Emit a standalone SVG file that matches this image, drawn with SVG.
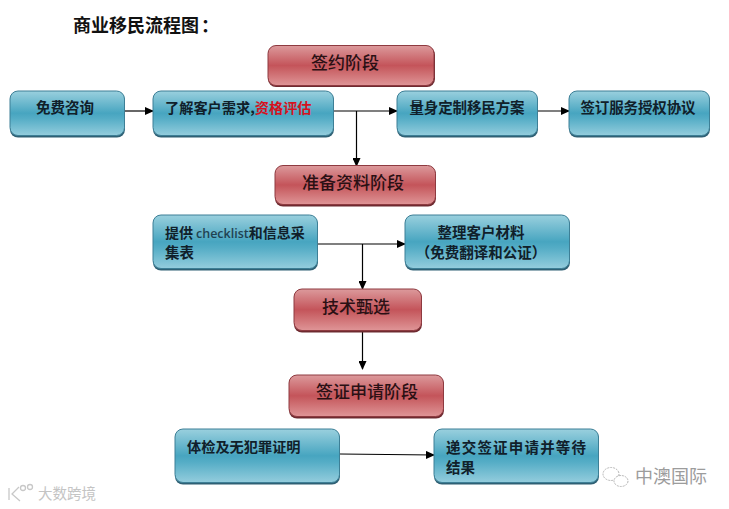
<svg xmlns="http://www.w3.org/2000/svg" width="729" height="509" viewBox="0 0 729 509">
<style>
text{font-family:"Noto Sans CJK SC","Noto Sans",sans-serif;fill:#10202a;font-weight:700}
.b{font-size:14.500px}
.r{font-size:17px;font-weight:500;fill:#2a1014}
.box{stroke:#3d7f96;stroke-width:1}
.rbox{stroke:#8e3a40;stroke-width:1}
.sb{fill:#2f6074}
.sr{fill:#6e2a30}
.c{fill:none;stroke:#000;stroke-width:1.2}
.wm{fill:#c4c4c4;font-weight:400}
</style>
<defs>
<linearGradient id="blue" x1="0" y1="0" x2="0" y2="1">
<stop offset="0" stop-color="#9ad0de"/><stop offset="0.5" stop-color="#47a5c0"/><stop offset="0.62" stop-color="#55adc6"/><stop offset="1" stop-color="#94cddd"/>
</linearGradient>
<linearGradient id="red" x1="0" y1="0" x2="0" y2="1">
<stop offset="0" stop-color="#dc9a9c"/><stop offset="0.5" stop-color="#c4545a"/><stop offset="0.62" stop-color="#ca6468"/><stop offset="1" stop-color="#df9597"/>
</linearGradient>
<marker id="ah" markerWidth="9" markerHeight="8" refX="8" refY="4" orient="auto" markerUnits="userSpaceOnUse"><path d="M0 0L9 4L0 8z" fill="#000"/></marker>
</defs>
<rect width="729" height="509" fill="#fff"/>
<text id="title" x="73" y="32" font-size="18" style="fill:#111">商业移民流程图<tspan dx="2">：</tspan></text>

<g id="connectors">
<path class="c" d="M125 111H153" marker-end="url(#ah)"/>
<path class="c" d="M334 111H397" marker-end="url(#ah)"/>
<path class="c" d="M356.500 111V166" marker-end="url(#ah)"/>
<path class="c" d="M532 111H569" marker-end="url(#ah)"/>
<path class="c" d="M318 244H405" marker-end="url(#ah)"/>
<path class="c" d="M362.500 244V289" marker-end="url(#ah)"/>
<path class="c" d="M362.500 332V369" marker-end="url(#ah)"/>
<path class="c" d="M340 454L434 455" marker-end="url(#ah)"/>
</g>

<g id="n-qianyue"><rect class="sr" x="268" y="47" width="167" height="40" rx="8"/><rect class="rbox" x="268" y="45.500" width="166" height="40" rx="8" fill="url(#red)"/><text class="r" x="345" y="69" text-anchor="middle">签约阶段</text></g>
<g id="n-zixun"><rect class="sb" x="10" y="93" width="115" height="44.500" rx="8"/><rect class="box" x="10" y="91" width="114.500" height="44.500" rx="8" fill="url(#blue)"/><text class="b" x="65" y="113" text-anchor="middle">免费咨询</text></g>
<g id="n-liaojie"><rect class="sb" x="153" y="93" width="181" height="44.500" rx="8"/><rect class="box" x="153" y="91" width="180.500" height="44.500" rx="8" fill="url(#blue)"/><text class="b" x="165" y="113" style="font-size:14.200px">了解客户需求,<tspan style="fill:#d5121e">资格评估</tspan></text></g>
<g id="n-liangshen"><rect class="sb" x="397" y="93" width="141" height="44.500" rx="8"/><rect class="box" x="397" y="91" width="140.500" height="44.500" rx="8" fill="url(#blue)"/><text class="b" x="467" y="113" text-anchor="middle" textLength="115">量身定制移民方案</text></g>
<g id="n-qianding"><rect class="sb" x="569" y="93" width="141" height="44.500" rx="8"/><rect class="box" x="569" y="91" width="140.500" height="44.500" rx="8" fill="url(#blue)"/><text class="b" x="638" y="113" text-anchor="middle" textLength="115">签订服务授权协议</text></g>
<g id="n-zhunbei"><rect class="sr" x="275" y="167" width="161" height="39.500" rx="8"/><rect class="rbox" x="275" y="165.500" width="160.500" height="39" rx="8" fill="url(#red)"/><text class="r" x="353" y="189" text-anchor="middle">准备资料阶段</text></g>
<g id="n-tigong"><rect class="sb" x="153" y="217" width="165" height="53.500" rx="8"/><rect class="box" x="153" y="215" width="164.500" height="53.500" rx="8" fill="url(#blue)"/><text class="b" x="165" y="238" style="font-size:14px">提供<tspan dx="3" font-size="12.500" font-weight="600" font-family="Open Sans,sans-serif" style="fill:#1f4252">checklist</tspan>和信息采</text><text class="b" x="165" y="258">集表</text></g>
<g id="n-zhengli"><rect class="sb" x="405" y="217" width="165" height="53.500" rx="8"/><rect class="box" x="405" y="215" width="164.500" height="53.500" rx="8" fill="url(#blue)"/><text class="b" x="481" y="238" text-anchor="middle">整理客户材料</text><text class="b" x="481" y="258" text-anchor="middle">（免费翻译和公证）</text></g>
<g id="n-jishu"><rect class="sr" x="294" y="291" width="128" height="41.500" rx="8"/><rect class="rbox" x="294" y="289" width="127.500" height="41.500" rx="8" fill="url(#red)"/><text class="r" x="356" y="313" text-anchor="middle">技术甄选</text></g>
<g id="n-qianzheng"><rect class="sr" x="289" y="377" width="155" height="41.500" rx="8"/><rect class="rbox" x="289" y="375" width="154.500" height="41.500" rx="8" fill="url(#red)"/><text class="r" x="367" y="398" text-anchor="middle">签证申请阶段</text></g>
<g id="n-tijian"><rect class="sb" x="175" y="431" width="165" height="53.500" rx="8"/><rect class="box" x="175" y="429" width="164.500" height="53.500" rx="8" fill="url(#blue)"/><text class="b" x="187" y="452" style="font-size:14.200px">体检及无犯罪证明</text></g>
<g id="n-dijiao"><rect class="sb" x="434" y="431" width="165" height="53.500" rx="8"/><rect class="box" x="434" y="429" width="164.500" height="53.500" rx="8" fill="url(#blue)"/><text class="b" x="446" y="453" textLength="140">递交签证申请并等待</text><text class="b" x="446" y="473">结果</text></g>

<g id="watermarks">
<g fill="none" stroke="#c8c8c8" stroke-width="1.300"><path d="M9 488V500M19 487L12 494L20 501"/><circle cx="23" cy="488" r="2.500"/><circle cx="30" cy="487" r="2.500"/></g>
<text class="wm" x="38" y="499" font-size="14.500">大数跨境</text>
<g fill="none" stroke="#b5b5b5" stroke-width="1" stroke-dasharray="2 1"><ellipse cx="611" cy="474" rx="8" ry="6.500"/><ellipse cx="621" cy="481" rx="7" ry="5.500" fill="#fff"/></g>
<text class="wm" x="635" y="483" font-size="18" style="fill:#9c9c9c">中澳国际</text>
</g>
</svg>
